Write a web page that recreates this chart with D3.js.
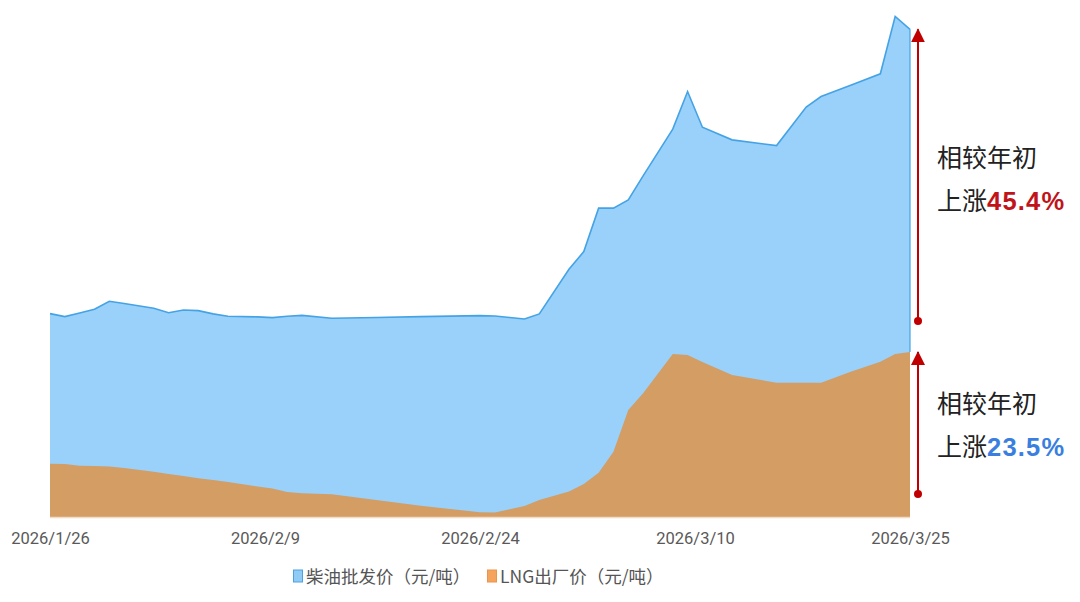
<!DOCTYPE html>
<html>
<head>
<meta charset="utf-8">
<script src="https://cdn.jsdelivr.net/npm/d3@7"></script>
<style>
  body { margin: 0; background: #fff; }
  text { font-family: "Noto Sans CJK SC", "Noto Sans", sans-serif; }
  .tick text { font-family: Roboto, "Noto Sans", sans-serif; }
</style>
</head>
<body>
<div id="chart"></div>
<script>
// days after 2026/1/26 (x axis is a time axis)
var dayOffsets = [0,1,2,3,4,5,7,8,9,10,11,12,14,15,16,17,19,22,25,29,30,31,32,33,35,36,37,38,39,40,42,43,44,46,49,51,52,54,56,57,58];
// 柴油批发价 (元/吨)
var dieselPrice = [6668,6636,6675,6715,6800,6775,6725,6678,6707,6700,6665,6640,6633,6625,6640,6649,6619,6627,6636,6646,6643,6627,6611,6665,7141,7329,7792,7792,7880,8136,8634,9035,8655,8520,8459,8869,8982,9102,9224,9835,9698];
// LNG出厂价 (元/吨)
var lngPrice = [5068,5065,5047,5044,5038,5022,4983,4959,4937,4913,4895,4873,4825,4804,4767,4753,4742,4681,4620,4550,4548,4582,4617,4681,4772,4852,4972,5196,5641,5819,6238,6227,6153,6014,5932,5932,5932,6049,6156,6238,6259];

var tickLabels = ["2026/1/26", "2026/2/9", "2026/2/24", "2026/3/10", "2026/3/25"];
var seriesNames = ["柴油批发价（元/吨）", "LNG出厂价（元/吨）"];
var riseLabels = ["45.4%", "23.5%"];
// value levels where the annotation arrows start
var arrowFrom = [6590, 4745];

var width = 1080, height = 602;
var margin = {top: 1, right: 170, bottom: 85, left: 50};

var startDate = new Date(2026, 0, 26);
var data = dayOffsets.map(function (d, i) {
    return {date: d3.timeDay.offset(startDate, d), diesel: dieselPrice[i], lng: lngPrice[i]};
});

var svg = d3.select("#chart").append("svg")
    .attr("width", width)
    .attr("height", height);

var x = d3.scaleTime()
    .domain(d3.extent(data, function (d) { return d.date; }))
    .range([margin.left, width - margin.right]);

var y = d3.scaleLinear()
    .domain([4500, 10000])
    .range([height - margin.bottom, margin.top]);

// labels sit at even fractions of the axis
var xLabel = d3.scalePoint()
    .domain(tickLabels)
    .range(x.range());

var dieselArea = d3.area()
    .x(function (d) { return x(d.date); })
    .y0(y(4500))
    .y1(function (d) { return y(d.diesel); });

var dieselLine = d3.line()
    .x(function (d) { return x(d.date); })
    .y(function (d) { return y(d.diesel); });

var lngArea = d3.area()
    .x(function (d) { return x(d.date); })
    .y0(y(4500))
    .y1(function (d) { return y(d.lng); });

svg.append("path")
    .datum(data)
    .attr("d", dieselArea)
    .attr("fill", "#99D1FA");

svg.append("path")
    .datum(data)
    .attr("d", dieselLine)
    .attr("fill", "none")
    .attr("stroke", "#45A3E5")
    .attr("stroke-width", 1.6);

// right edge of the blue area
var last = data[data.length - 1];
svg.append("line")
    .attr("x1", x(last.date)).attr("x2", x(last.date))
    .attr("y1", y(last.diesel)).attr("y2", y(last.lng))
    .attr("stroke", "#45A3E5")
    .attr("stroke-width", 1.2);

svg.append("path")
    .datum(data)
    .attr("d", lngArea)
    .attr("fill", "#D39D63");

svg.append("line")
    .attr("x1", x.range()[0]).attr("x2", x.range()[1])
    .attr("y1", y(4500) + 0.5).attr("y2", y(4500) + 0.5)
    .attr("stroke", "#F2DCC6")
    .attr("stroke-width", 1.5);

var xAxis = d3.axisBottom(xLabel).tickSize(0).tickPadding(15);
var gx = svg.append("g")
    .attr("transform", "translate(0," + y(4500) + ")")
    .call(xAxis);
gx.select(".domain").remove();
gx.selectAll("text")
    .attr("font-size", 16.5)
    .attr("fill", "#595959");

// arrows
var defs = svg.append("defs");
defs.append("marker")
    .attr("id", "head")
    .attr("viewBox", "0 0 14 14")
    .attr("refX", 7).attr("refY", 1)
    .attr("markerWidth", 14).attr("markerHeight", 14)
    .attr("markerUnits", "userSpaceOnUse")
    .attr("orient", "0")
  .append("path")
    .attr("d", "M0,14 L7,0 L14,14 Z")
    .attr("fill", "#C00000");

var arrowX = x(last.date) + 8;
var arrows = [
    {from: arrowFrom[0], to: last.diesel},
    {from: arrowFrom[1], to: last.lng}
];
arrows.forEach(function (a) {
    svg.append("line")
        .attr("x1", arrowX).attr("x2", arrowX)
        .attr("y1", y(a.from)).attr("y2", y(a.to))
        .attr("stroke", "#C00000")
        .attr("stroke-width", 2)
        .attr("marker-end", "url(#head)");
    svg.append("circle")
        .attr("cx", arrowX).attr("cy", y(a.from))
        .attr("r", 4)
        .attr("fill", "#C00000");
});

var noteColors = ["#C0141A", "#3A7FE0"];
var noteY = [167, 413];
arrows.forEach(function (a, i) {
    var t = svg.append("text")
        .attr("x", 937)
        .attr("font-size", 25)
        .attr("fill", "#222");
    t.append("tspan")
        .attr("x", 937)
        .attr("y", noteY[i])
        .text("相较年初");
    t.append("tspan")
        .attr("x", 937)
        .attr("y", noteY[i] + 43)
        .text("上涨");
    t.append("tspan")
        .attr("font-weight", "bold")
        .attr("font-family", "'Liberation Sans', Arial, sans-serif")
        .attr("font-size", 25.5)
        .attr("letter-spacing", 1.2)
        .attr("fill", noteColors[i])
        .text(riseLabels[i]);
});

// legend
var legendColors = [{fill: "#8FCBF5", stroke: "#4AA3E0"}, {fill: "#F5A45E", stroke: "#EE9448"}];
var legendX = [293, 487];
seriesNames.forEach(function (name, i) {
    var g = svg.append("g").attr("transform", "translate(" + legendX[i] + ",576)");
    g.append("rect")
        .attr("x", 0.5).attr("y", -6)
        .attr("width", 9).attr("height", 12)
        .attr("fill", legendColors[i].fill)
        .attr("stroke", legendColors[i].stroke)
        .attr("stroke-width", 1);
    g.append("text")
        .attr("x", 13)
        .attr("y", 6.5)
        .attr("font-size", 17.5)
        .attr("fill", "#555")
        .text(name);
});
</script>
</body>
</html>
